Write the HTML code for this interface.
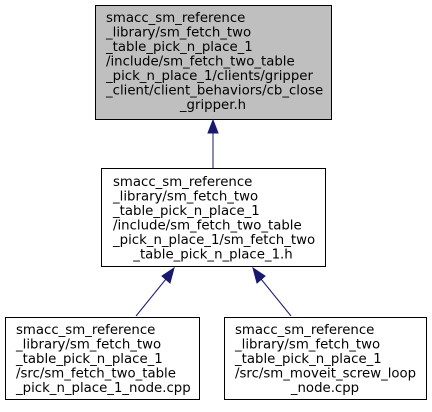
<!DOCTYPE html>
<html><head><meta charset="utf-8"><style>
html,body{margin:0;padding:0;background:#fff;}
svg text{font-family:"DejaVu Sans","Liberation Sans",sans-serif;font-size:13.3px;fill:#000;}
</style></head><body>
<svg width="432" height="407" viewBox="0 0 432 407" xmlns="http://www.w3.org/2000/svg">
<rect x="95.5" y="5.5" width="236" height="114" fill="#bfbfbf" stroke="#000" stroke-width="1"/>
<text x="106" y="22">smacc_sm_reference</text>
<text x="106" y="36.5">_library/sm_fetch_two</text>
<text x="106" y="51">_table_pick_n_place_1</text>
<text x="106" y="65.5">/include/sm_fetch_two_table</text>
<text x="106" y="80">_pick_n_place_1/clients/gripper</text>
<text x="106" y="94.5">_client/client_behaviors/cb_close</text>
<text x="213" y="109" text-anchor="middle">_gripper.h</text>

<line x1="213" y1="168" x2="213" y2="132" stroke="#191970" stroke-width="1"/>
<polygon points="213,120 208,133 218,133" fill="#191970" stroke="#191970"/>

<rect x="101.5" y="168.5" width="224" height="98" fill="#fff" stroke="#000"/>
<text x="113" y="186">smacc_sm_reference</text>
<text x="113" y="200.5">_library/sm_fetch_two</text>
<text x="113" y="215">_table_pick_n_place_1</text>
<text x="113" y="229.5">/include/sm_fetch_two_table</text>
<text x="113" y="244">_pick_n_place_1/sm_fetch_two</text>
<text x="213" y="258.5" text-anchor="middle">_table_pick_n_place_1.h</text>

<line x1="136" y1="316" x2="166" y2="279" stroke="#191970"/>
<polygon points="174,268 162,276 170,283" fill="#191970" stroke="#191970"/>
<line x1="291" y1="316" x2="261" y2="279" stroke="#191970"/>
<polygon points="253,268 257,283 265,276" fill="#191970" stroke="#191970"/>

<rect x="5.5" y="317.5" width="194" height="82" fill="#fff" stroke="#000"/>
<text x="16" y="334">smacc_sm_reference</text>
<text x="16" y="348.5">_library/sm_fetch_two</text>
<text x="16" y="363">_table_pick_n_place_1</text>
<text x="16" y="377.5">/src/sm_fetch_two_table</text>
<text x="16" y="392">_pick_n_place_1_node.cpp</text>

<rect x="224.5" y="317.5" width="202" height="82" fill="#fff" stroke="#000"/>
<text x="235" y="334">smacc_sm_reference</text>
<text x="235" y="348.5">_library/sm_fetch_two</text>
<text x="235" y="363">_table_pick_n_place_1</text>
<text x="235" y="377.5">/src/sm_moveit_screw_loop</text>
<text x="325" y="392" text-anchor="middle">_node.cpp</text>
</svg>
</body></html>
